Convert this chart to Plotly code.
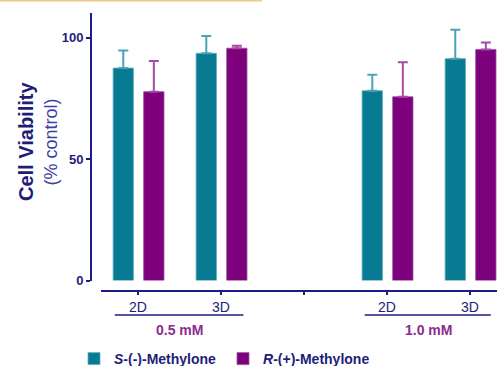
import plotly.graph_objects as go

# Cell viability (% of control) for the two methylone enantiomers
tick_labels = ["2D", "3D", "", "2D", "3D"]
tick_pos = [0, 1, 2, 3, 4]
bar_pos = [0, 1, 3, 4]

s_vals = [87.4, 93.5, 78.1, 91.3]
s_err = [7.2, 7.1, 6.6, 11.9]
r_vals = [77.7, 95.6, 75.6, 95.1]
r_err = [12.6, 1.0, 14.2, 2.8]

group_names = ["0.5 mM", "1.0 mM"]
group_centers = [0.5, 3.5]
group_spans = [(-0.28, 1.27), (2.73, 4.25)]

W, H = 497, 366
ML, MT, MB = 91, 13, 75
PW, PH = W - ML, H - MT - MB

NAVY = "#1c1c86"
TEXT_NAVY = "#1e1e78"
TEAL = "#087b92"
TEAL_ERR = "#4aa4b7"
PURPLE = "#7d007d"
PURPLE_ERR = "#a64aa6"
GROUP_PURPLE = "#8b2d8e"
FONT = "Liberation Sans, Arial, sans-serif"

fig = go.Figure()

fig.add_trace(go.Bar(
    x=bar_pos, y=s_vals, width=0.245, offset=-0.30,
    name="<b><i>S</i>-(-)-Methylone</b>",
    marker=dict(color=TEAL, line=dict(color="#5fb0c0", width=0.8)),
    error_y=dict(type="data", array=s_err, symmetric=False,
                 arrayminus=[0] * len(s_err), color=TEAL_ERR,
                 thickness=2, width=5),
    legend="legend",
))
fig.add_trace(go.Bar(
    x=bar_pos, y=r_vals, width=0.245, offset=0.068,
    name="<b><i>R</i>-(+)-Methylone</b>",
    marker=dict(color=PURPLE, line=dict(color="#a050a0", width=0.8)),
    error_y=dict(type="data", array=r_err, symmetric=False,
                 arrayminus=[0] * len(r_err), color=PURPLE_ERR,
                 thickness=2, width=5),
    legend="legend2",
))

# concentration brackets under the category labels
shapes = []
annotations = []
for name, c, (a, b) in zip(group_names, group_centers, group_spans):
    shapes.append(dict(type="line", xref="x", yref="paper",
                       x0=a, x1=b, y0=-24 / PH, y1=-24 / PH,
                       line=dict(color=NAVY, width=1.5)))
    annotations.append(dict(text="<b>%s</b>" % name, x=c, xref="x",
                            y=-39 / PH, yref="paper", showarrow=False,
                            xanchor="center", yanchor="middle",
                            font=dict(family=FONT, size=14, color=GROUP_PURPLE)))

# thin accent rule along the top edge
shapes.append(dict(type="line", xref="paper", yref="paper",
                   x0=-ML / PW, x1=(262 - ML) / PW,
                   y0=1 + 12.5 / PH, y1=1 + 12.5 / PH,
                   line=dict(color="#ebcb85", width=2)))

# y-axis title, two lines
annotations.append(dict(text="<b>Cell Viability</b>", textangle=-90,
                        x=(25.5 - ML) / PW, y=(291 - 141.5) / PH,
                        xref="paper", yref="paper", showarrow=False,
                        xanchor="center", yanchor="middle",
                        font=dict(family=FONT, size=20, color=TEXT_NAVY)))
annotations.append(dict(text="(% control)", textangle=-90,
                        x=(50 - ML) / PW, y=(291 - 142.5) / PH,
                        xref="paper", yref="paper", showarrow=False,
                        xanchor="center", yanchor="middle",
                        font=dict(family=FONT, size=18, color="#3d3da2")))

legend_common = dict(orientation="h", xanchor="left", yanchor="middle",
                     bgcolor="rgba(0,0,0,0)", borderwidth=0,
                     itemwidth=30, tracegroupgap=0,
                     font=dict(family=FONT, size=14, color=TEXT_NAVY))

fig.update_layout(
    width=W, height=H,
    margin=dict(l=ML, r=0, t=MT, b=MB, pad=0, autoexpand=False),
    plot_bgcolor="white", paper_bgcolor="white",
    showlegend=True,
    legend=dict(x=(74 - ML) / PW, y=(291 - 359) / PH, **legend_common),
    legend2=dict(x=(223 - ML) / PW, y=(291 - 359) / PH, **legend_common),
    xaxis=dict(domain=[10 / PW, 1], range=[-0.446, 4.325],
               anchor="free", position=0,
               tickmode="array", tickvals=tick_pos, ticktext=tick_labels,
               ticks="outside", ticklen=3, tickwidth=1.5, tickcolor=NAVY,
               showline=True, linecolor=NAVY, linewidth=2,
               showgrid=False, zeroline=False,
               tickfont=dict(family=FONT, size=14, color=TEXT_NAVY)),
    yaxis=dict(domain=[10.5 / PH, 1], range=[0, (280.5 - 13) / 2.43],
               anchor="free", position=0,
               tickmode="array", tickvals=[0, 50, 100],
               ticks="outside", ticklen=4, tickwidth=1.5, tickcolor=NAVY,
               showline=True, linecolor=NAVY, linewidth=2,
               showgrid=False, zeroline=False,
               tickfont=dict(family=FONT, size=13, color=TEXT_NAVY,
                             weight="bold")),
    shapes=shapes,
    annotations=annotations,
)

fig.write_html("out.html")
